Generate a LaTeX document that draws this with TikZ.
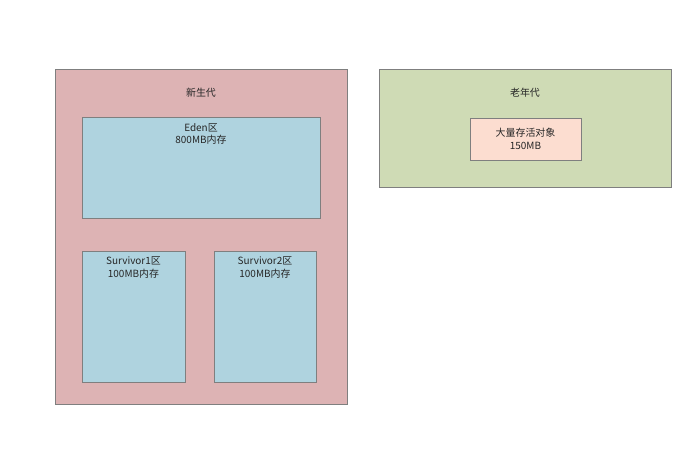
\documentclass[tikz,border=0pt]{standalone}
\usepackage{fontspec}
\newfontfamily\cjk{Noto Sans CJK SC}
\definecolor{youngfill}{HTML}{DDB3B4}
\definecolor{oldfill}{HTML}{CFDBB5}
\definecolor{spacefill}{HTML}{AFD3DF}
\definecolor{objfill}{HTML}{FCDDD0}
\definecolor{edge}{HTML}{7F7F7F}
\tikzset{
  region/.style={draw=edge, line width=0.6pt, anchor=north west, inner sep=0pt},
  lbl/.style={font=\cjk\fontsize{8.5}{11}\selectfont, align=center, text=black!85}
}
\begin{document}
\begin{tikzpicture}[x=0.03cm, y=-0.03cm]
\useasboundingbox (0,0) rectangle (686,458);
% young generation
\node[region, fill=youngfill, minimum width=8.76cm, minimum height=10.05cm] (young) at (55,69) {};
\node[lbl] (younglbl) at (201,93) {新生代};
\node[region, fill=spacefill, minimum width=7.14cm, minimum height=3.03cm] (eden) at (82,117) {};
\node[lbl, anchor=north] (edenlbl) at (201,119) {Eden区\\800MB内存};
\node[region, fill=spacefill, minimum width=3.09cm, minimum height=3.93cm] (surv1) at (82,251) {};
\node[lbl, anchor=north] (surv1lbl) at (133.5,253) {Survivor1区\\100MB内存};
\node[region, fill=spacefill, minimum width=3.06cm, minimum height=3.93cm] (surv2) at (214,251) {};
\node[lbl, anchor=north] (surv2lbl) at (265,253) {Survivor2区\\100MB内存};
% old generation
\node[region, fill=oldfill, minimum width=8.76cm, minimum height=3.54cm] (old) at (379,69) {};
\node[lbl] (oldlbl) at (525,93) {老年代};
\node[region, fill=objfill, minimum width=3.33cm, minimum height=1.26cm] (obj) at (470,118) {};
\node[lbl] (objlbl) at (525.5,139) {大量存活对象\\150MB};
\end{tikzpicture}
\end{document}
